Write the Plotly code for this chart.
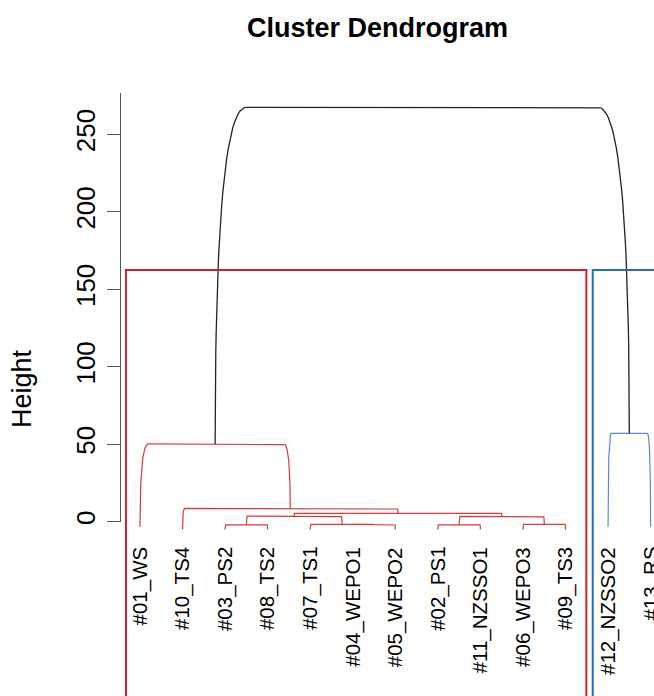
import plotly.graph_objects as go

# ---------------- data ----------------
leaf_labels = ["#01_WS", "#10_TS4", "#03_PS2", "#08_TS2", "#07_TS1", "#04_WEPO1",
               "#05_WEPO2", "#02_PS1", "#11_NZSSO1", "#06_WEPO3", "#09_TS3",
               "#12_NZSSO2", "#13_RS"]
# R-style merge matrix (negative = leaf position, positive = earlier merge)
merge_left = [-3, -6, -5, -8, -10, 1, 4, 6, -2, -1, -12, 10]
merge_right = [-4, -7, 2, -9, -11, 3, 5, 7, 8, 9, -13, 11]
merge_height = [-2.1, -1.7, -1.7, -2.1, -1.7, 3.7, 3.5, 5.4, 8.6, 50.2, 57.0, 267.4]
leaf_bottom = [-3.2, -5.0, -5.0, -5.0, -5.0, -1.7, -5.0, -5.0, -5.0, -5.0, -5.0, -3.2, -3.2]
leaf_group = [1, 1, 1, 1, 1, 1, 1, 1, 1, 1, 1, 2, 2]
rect_left = [0.67, 11.64]
rect_right = [11.49, 14.5]
rect_top = 162.5
y_ticks = [0, 50, 100, 150, 200, 250]
y_tick_text = ["0", "50", "100", "150", "200", "250"]

# ---------------- styling ----------------
W, H = 654, 696
ML = 120
XR = [0.530, 13.080]
YR = [-112.5, 336.7]
px_x = (W - ML) / (XR[1] - XR[0])
px_y = H / (YR[1] - YR[0])
group_line = {1: "#D93A3A", 2: "#5B86DA", 0: "#222222"}
group_rect = {1: "#D0202A", 2: "#1F70C4"}
FONT = "Liberation Sans, Arial, Helvetica, sans-serif"

# ---------------- build dendrogram geometry ----------------
node_x, node_h, node_leaves = {}, {}, {}

def info(ref):
    if ref < 0:
        i = -ref
        return float(i), leaf_bottom[i - 1], [i]
    return node_x[ref], node_h[ref], node_leaves[ref]

def corner(x0, h0, x1, h1, n=28):
    # quadratic bezier: vertical at (x0,h0), horizontal at (x1,h1)
    xs, ys = [], []
    for k in range(n + 1):
        t = k / n
        xs.append((1 - t) ** 2 * x0 + 2 * t * (1 - t) * x0 + t * t * x1)
        ys.append((1 - t) ** 2 * h0 + 2 * t * (1 - t) * h1 + t * t * h1)
    return xs, ys

fig = go.Figure()
for m in range(len(merge_left)):
    xl, hl, ll = info(merge_left[m])
    xr, hr, lr = info(merge_right[m])
    h = merge_height[m]
    idx = m + 1
    node_x[idx] = (xl + xr) / 2
    node_h[idx] = h
    node_leaves[idx] = ll + lr
    groups = {leaf_group[i - 1] for i in ll + lr}
    g = groups.pop() if len(groups) == 1 else 0
    wpx = (xr - xl) * px_x
    dl = min(0.075 * wpx, 0.1 * max(h - hl, 0) * px_y) / px_x
    dr = min(0.075 * wpx, 0.1 * max(h - hr, 0) * px_y) / px_x
    ax, ay = corner(xl, hl, xl + dl, h)
    bx, by = corner(xr, hr, xr - dr, h)
    xs = ax + bx[::-1]
    ys = ay + by[::-1]
    fig.add_trace(go.Scatter(x=xs, y=ys, mode="lines",
                             line=dict(color=group_line[g], width=1.3 if g == 0 else 1.2),
                             hoverinfo="skip", showlegend=False))

# cluster rectangles
for k in range(len(rect_left)):
    fig.add_shape(type="rect", xref="x", yref="y",
                  x0=rect_left[k], x1=rect_right[k], y0=YR[0] - 30, y1=rect_top,
                  line=dict(color=group_rect[k + 1], width=2))

# leaf labels
for i, lab in enumerate(leaf_labels):
    fig.add_annotation(x=i + 1, y=-15.0, xref="x", yref="y", text=lab,
                       showarrow=False, textangle=-90, xanchor="center", yanchor="top",
                       font=dict(family=FONT, size=20.5, color="black"))

# dummy trace to create the height axis
fig.add_trace(go.Scatter(x=[XR[0]], y=[0], yaxis="y2", mode="markers",
                         marker=dict(opacity=0), hoverinfo="skip", showlegend=False))

y0px = H * (YR[1] - 0) / (YR[1] - YR[0])
top_val = 276.5
y1px = H * (YR[1] - top_val) / (YR[1] - YR[0])

fig.update_layout(
    width=W, height=H, autosize=False,
    margin=dict(l=ML, r=0, t=0, b=0, pad=0, autoexpand=False),
    paper_bgcolor="white", plot_bgcolor="rgba(0,0,0,0)",
    showlegend=False, hovermode=False,
    xaxis=dict(range=XR, visible=False, fixedrange=True, automargin=False),
    yaxis=dict(range=YR, visible=False, fixedrange=True, automargin=False),
    yaxis2=dict(range=[0, top_val], domain=[1 - y0px / H, 1 - y1px / H],
                anchor="free", position=0, fixedrange=True, automargin=False,
                showgrid=False, zeroline=False, showline=True,
                linecolor="#555555", linewidth=1,
                ticks="outside", ticklen=13, tickcolor="#555555", tickwidth=1,
                tickvals=y_ticks, ticktext=y_tick_text, tickangle=-90,
                ticklabelstandoff=2,
                tickfont=dict(family=FONT, size=26, color="black")),
    font=dict(family=FONT),
)

fig.add_annotation(text="Height", xref="paper", yref="paper",
                   x=(22 - ML) / (W - ML), y=1 - 389 / H, showarrow=False,
                   textangle=-90, xanchor="center", yanchor="middle",
                   font=dict(family=FONT, size=27, color="black"))
fig.add_annotation(text="<b>Cluster Dendrogram</b>", xref="paper", yref="paper",
                   x=(377 - ML) / (W - ML), y=1 - 28 / H, showarrow=False,
                   xanchor="center", yanchor="middle",
                   font=dict(family=FONT, size=27, color="black"))

fig.write_html("out.html", config={"displayModeBar": False},
               post_script="document.body.style.margin='0';document.body.style.overflow='hidden';")
